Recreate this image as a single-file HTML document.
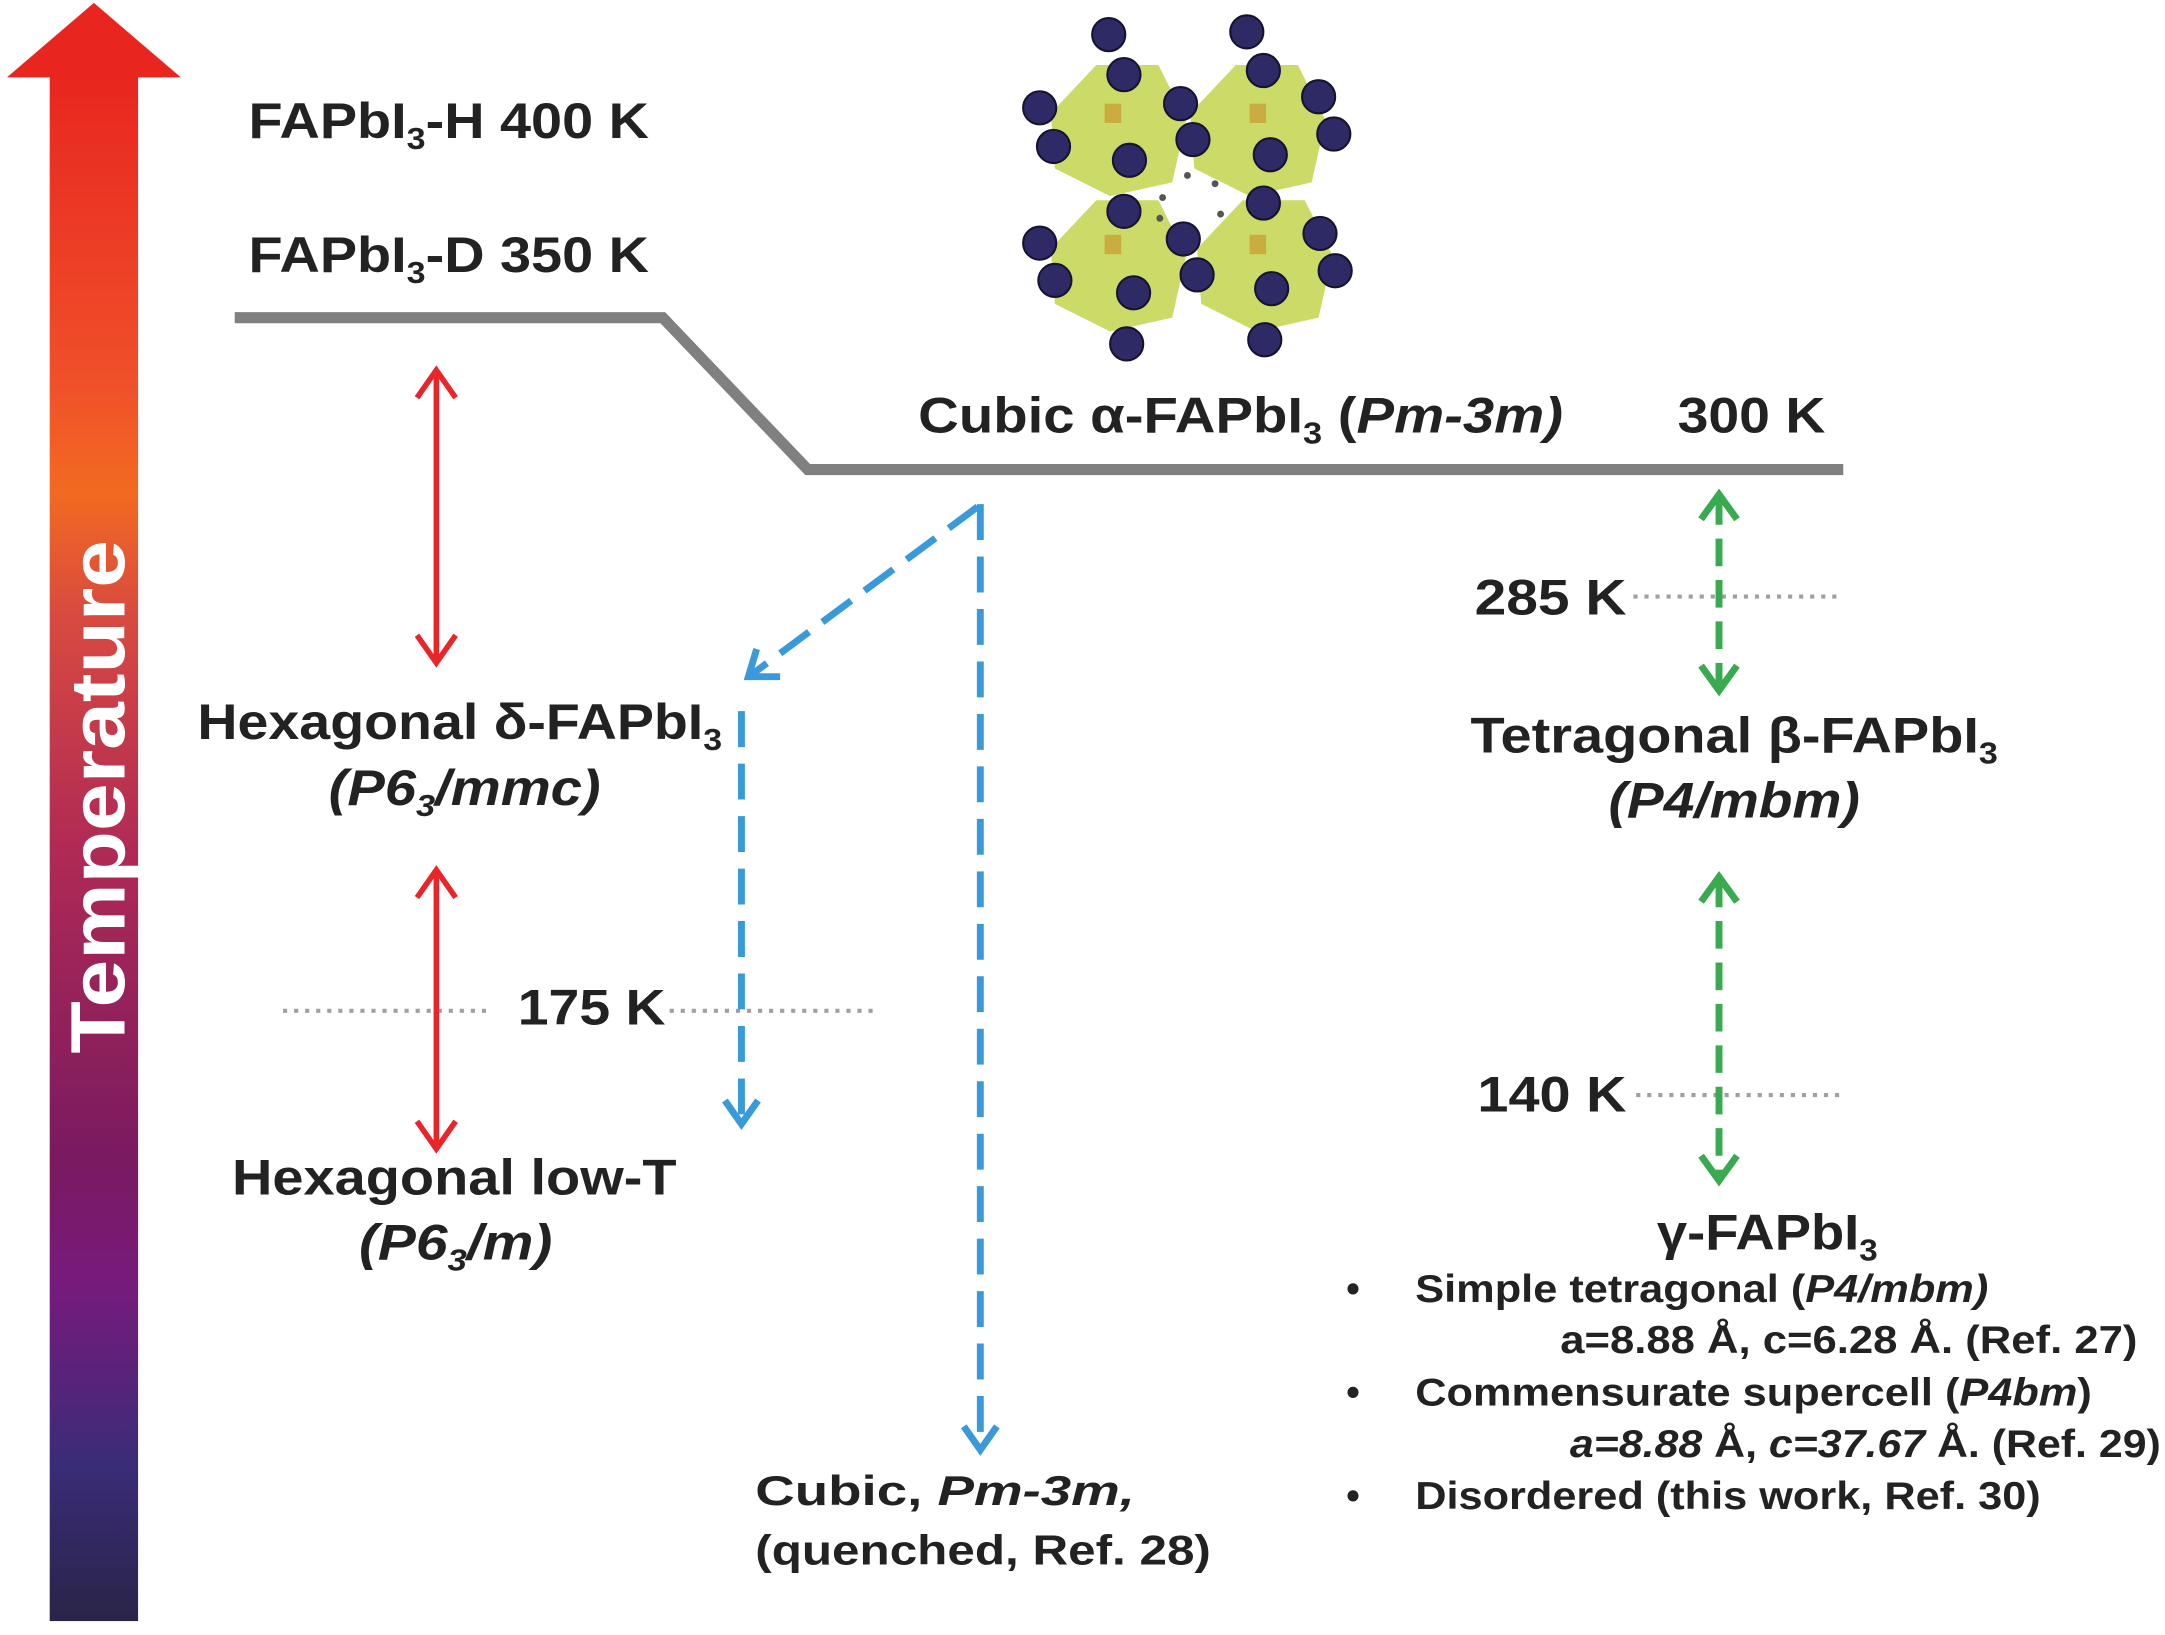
<!DOCTYPE html>
<html><head><meta charset="utf-8"><style>
html,body{margin:0;padding:0;background:#fff;}
svg{display:block;}
text{font-family:"Liberation Sans",Arial,sans-serif;font-weight:bold;fill:#222;}
</style></head><body>
<svg width="2165" height="1635" viewBox="0 0 1568 1184" xmlns="http://www.w3.org/2000/svg">
<defs>
<linearGradient id="tg" x1="0" y1="0" x2="0" y2="1">
<stop offset="0" stop-color="#e8261f"/>
<stop offset="0.2" stop-color="#f0502a"/>
<stop offset="0.27" stop-color="#f26a20"/>
<stop offset="0.35" stop-color="#d84a40"/>
<stop offset="0.5" stop-color="#b02a55"/>
<stop offset="0.7" stop-color="#7a1a60"/>
<stop offset="0.78" stop-color="#781a7c"/>
<stop offset="0.9" stop-color="#3a2c78"/>
<stop offset="1" stop-color="#2a2448"/>
</linearGradient>
</defs>
<rect width="1568" height="1184" fill="#fff"/>
<rect x="36" y="54" width="64" height="1120" fill="url(#tg)"/>
<polygon points="5,56 131,56 68,2" fill="#e8261f"/>
<text transform="translate(90,577) rotate(-90)" text-anchor="middle" font-size="56" textLength="372" lengthAdjust="spacingAndGlyphs" style="fill:#fff">Temperature</text>
<polyline points="170,230 480,230 585,340 1335,340" fill="none" stroke="#808080" stroke-width="8"/>
<g fill="#c3d34c" fill-opacity="0.85">
<polygon points="761,82 794,47 839,47 859,87 849,132 804,142 764,122"/>
<polygon points="862,82 895,47 940,47 960,87 950,132 905,142 865,122"/>
<polygon points="761,180 794,145 839,145 859,185 849,230 804,240 764,220"/>
<polygon points="867,180 900,145 945,145 965,185 955,230 910,240 870,220"/>
</g>
<g fill="#c89a30" opacity="0.7">
<rect x="800" y="75" width="12" height="14"/><rect x="905" y="75" width="12" height="14"/>
<rect x="800" y="170" width="12" height="14"/><rect x="905" y="170" width="12" height="14"/>
</g>
<g fill="#2e2a66" stroke="#15132e" stroke-width="1.5">
<circle cx="803" cy="25" r="12"/><circle cx="814" cy="54" r="12"/><circle cx="753" cy="78" r="12"/>
<circle cx="763" cy="106" r="12"/><circle cx="818" cy="116" r="12"/><circle cx="855" cy="75" r="12"/>
<circle cx="864" cy="101" r="12"/><circle cx="903" cy="23" r="12"/><circle cx="915" cy="51" r="12"/>
<circle cx="955" cy="70" r="12"/><circle cx="966" cy="97" r="12"/><circle cx="920" cy="112" r="12"/>
<circle cx="915" cy="147" r="12"/><circle cx="814" cy="153" r="12"/><circle cx="753" cy="176" r="12"/>
<circle cx="764" cy="203" r="12"/><circle cx="821" cy="212" r="12"/><circle cx="857" cy="173" r="12"/>
<circle cx="867" cy="199" r="12"/><circle cx="956" cy="169" r="12"/><circle cx="967" cy="196" r="12"/>
<circle cx="921" cy="209" r="12"/><circle cx="816" cy="249" r="12"/><circle cx="916" cy="246" r="12"/>
</g>
<g fill="#555"><circle cx="860" cy="127" r="2.5"/><circle cx="842" cy="143" r="2.5"/><circle cx="880" cy="133" r="2.5"/><circle cx="884" cy="155" r="2.5"/><circle cx="840" cy="158" r="2.5"/></g>
<g stroke="#a0a0a0" stroke-width="3" stroke-dasharray="3 5">
<line x1="205" y1="732" x2="355" y2="732"/><line x1="485" y1="732" x2="635" y2="732"/>
<line x1="1183" y1="432" x2="1330" y2="432"/><line x1="1185" y1="793" x2="1335" y2="793"/>
</g>
<g stroke="#e8262a" stroke-width="4" fill="none">
<line x1="316" y1="270" x2="316" y2="478"/><polyline points="302,288 316,268 330,288"/><polyline points="302,460 316,480 330,460"/>
<line x1="316" y1="632" x2="316" y2="830"/><polyline points="302,650 316,630 330,650"/><polyline points="302,812 316,832 330,812"/>
</g>
<g stroke="#3a9ad9" stroke-width="5" fill="none">
<line x1="708" y1="367" x2="545" y2="488" stroke-dasharray="26 12"/>
<polyline points="548,470 542,490 565,490"/>
<line x1="537" y1="515" x2="537" y2="812" stroke-dasharray="26 12"/>
<polyline points="525,797 537,814 549,797"/>
<line x1="710" y1="365" x2="710" y2="1048" stroke-dasharray="26 12"/>
<polyline points="698,1033 710,1050 722,1033"/>
</g>
<g stroke="#3aaa50" stroke-width="5" fill="none">
<line x1="1245" y1="360" x2="1245" y2="496" stroke-dasharray="20 10"/>
<polyline points="1232,376 1245,358 1258,376"/><polyline points="1232,482 1245,500 1258,482"/>
<line x1="1245" y1="637" x2="1245" y2="852" stroke-dasharray="20 10"/>
<polyline points="1232,653 1245,635 1258,653"/><polyline points="1232,837 1245,855 1258,837"/>
</g>
<g font-size="36">
<text x="180" y="100" textLength="290" lengthAdjust="spacingAndGlyphs">FAPbI<tspan font-size="22" dy="8">3</tspan><tspan dy="-8">-H 400 K</tspan></text>
<text x="180" y="197" textLength="290" lengthAdjust="spacingAndGlyphs">FAPbI<tspan font-size="22" dy="8">3</tspan><tspan dy="-8">-D 350 K</tspan></text>
<text x="665" y="313" textLength="467" lengthAdjust="spacingAndGlyphs">Cubic α-FAPbI<tspan font-size="22" dy="8">3</tspan><tspan dy="-8"> (</tspan><tspan font-style="italic">Pm-3m)</tspan></text>
<text x="1215" y="313" textLength="107" lengthAdjust="spacingAndGlyphs">300 K</text>
<text x="1068" y="445" textLength="110" lengthAdjust="spacingAndGlyphs">285 K</text>
<text x="1065" y="545" textLength="382" lengthAdjust="spacingAndGlyphs">Tetragonal β-FAPbI<tspan font-size="22" dy="8">3</tspan></text>
<text x="1165" y="592" font-style="italic" textLength="182" lengthAdjust="spacingAndGlyphs">(P4/mbm)</text>
<text x="143" y="535" textLength="380" lengthAdjust="spacingAndGlyphs">Hexagonal δ-FAPbI<tspan font-size="22" dy="8">3</tspan></text>
<text x="238" y="583" font-style="italic" textLength="197" lengthAdjust="spacingAndGlyphs">(P6<tspan font-size="22" dy="8">3</tspan><tspan dy="-8">/mmc)</tspan></text>
<text x="375" y="742" textLength="107" lengthAdjust="spacingAndGlyphs">175 K</text>
<text x="168" y="865" textLength="322" lengthAdjust="spacingAndGlyphs">Hexagonal low-T</text>
<text x="260" y="912" font-style="italic" textLength="140" lengthAdjust="spacingAndGlyphs">(P6<tspan font-size="22" dy="8">3</tspan><tspan dy="-8">/m)</tspan></text>
<text x="1070" y="805" textLength="108" lengthAdjust="spacingAndGlyphs">140 K</text>
<text x="1200" y="905" textLength="160" lengthAdjust="spacingAndGlyphs">γ-FAPbI<tspan font-size="22" dy="8">3</tspan></text>
</g>
<g font-size="28">
<text x="975" y="943">•</text><text x="1025" y="943" textLength="415" lengthAdjust="spacingAndGlyphs">Simple tetragonal (<tspan font-style="italic">P4/mbm)</tspan></text>
<text x="1130" y="980" textLength="418" lengthAdjust="spacingAndGlyphs">a=8.88 Å, c=6.28 Å. (Ref. 27)</text>
<text x="975" y="1018">•</text><text x="1025" y="1018" textLength="490" lengthAdjust="spacingAndGlyphs">Commensurate supercell (<tspan font-style="italic">P4bm</tspan>)</text>
<text x="1137" y="1055" textLength="428" lengthAdjust="spacingAndGlyphs"><tspan font-style="italic">a=8.88</tspan> Å, <tspan font-style="italic">c=37.67</tspan> Å. (Ref. 29)</text>
<text x="975" y="1093">•</text><text x="1025" y="1093" textLength="453" lengthAdjust="spacingAndGlyphs">Disordered (this work, Ref. 30)</text>
<text x="547" y="1090" font-size="30" textLength="275" lengthAdjust="spacingAndGlyphs">Cubic, <tspan font-style="italic">Pm-3m,</tspan></text>
<text x="547" y="1133" font-size="30" textLength="330" lengthAdjust="spacingAndGlyphs">(quenched, Ref. 28)</text>
</g>
</svg>
</body></html>
